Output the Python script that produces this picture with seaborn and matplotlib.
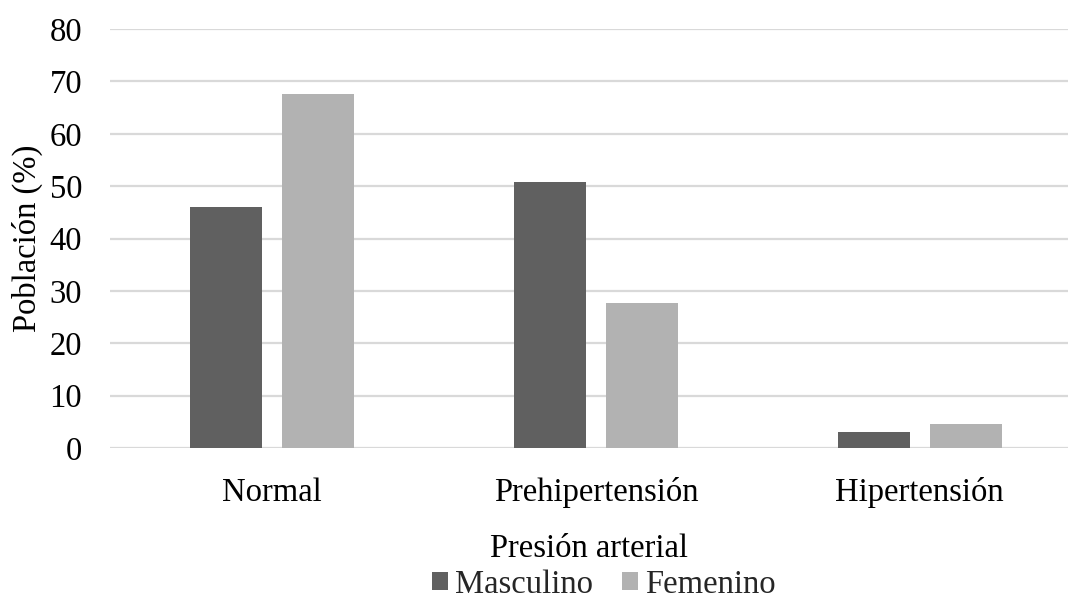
import matplotlib
matplotlib.use("Agg")
import matplotlib.pyplot as plt
import seaborn as sns
import pandas as pd
from matplotlib.patches import Patch

# Blood pressure classification by sex (% of population)
categorias = ["Normal", "Prehipertensión", "Hipertensión"]
masculino = [46.0, 50.8, 3.1]
femenino = [67.6, 27.7, 4.6]
sexos = ["Masculino", "Femenino"]
colores = ["#606060", "#b2b2b2"]
yticks = [0, 10, 20, 30, 40, 50, 60, 70, 80]

df = pd.DataFrame({
    "Presión arterial": categorias * 2,
    "Población": masculino + femenino,
    "Sexo": [sexos[0]] * 3 + [sexos[1]] * 3,
})

sns.set_theme(style="white")
plt.rcParams["font.family"] = ["Liberation Serif", "DejaVu Serif"]

FS = 23.5

fig = plt.figure(figsize=(10.69, 5.99), dpi=100)
ax = fig.add_axes([0.1029, 0.252, 0.896, 0.6995])

sns.barplot(data=df, x="Presión arterial", y="Población", hue="Sexo",
            order=categorias, hue_order=sexos, palette=colores,
            width=0.568, gap=0.217, saturation=1, ax=ax, legend=False,
            edgecolor="none")

ax.set_xlim(-0.5, 2.457)
ax.set_ylim(0, 80)
ax.set_yticks(yticks)
ax.yaxis.grid(True, color="#d9d9d9", linewidth=1.6)
ax.set_axisbelow(True)
for s in ax.spines.values():
    s.set_visible(False)
ax.tick_params(axis="both", length=0, labelsize=FS, colors="black")
ax.tick_params(axis="y", pad=20)
ax.tick_params(axis="x", pad=21)

ax.set_xlabel("Presión arterial", fontsize=FS, labelpad=18, color="black")
ax.set_ylabel("Población (%)", fontsize=FS, labelpad=5, color="black")

handles = [Patch(facecolor=c, edgecolor="none") for c in colores]
fig.legend(handles, sexos, loc="lower center", bbox_to_anchor=(0.5646, -0.05),
           ncol=2, frameon=False, fontsize=FS, handlelength=0.5,
           handleheight=0.5, handletextpad=0.2, columnspacing=0.9)

fig.savefig("out.png", dpi=100)
